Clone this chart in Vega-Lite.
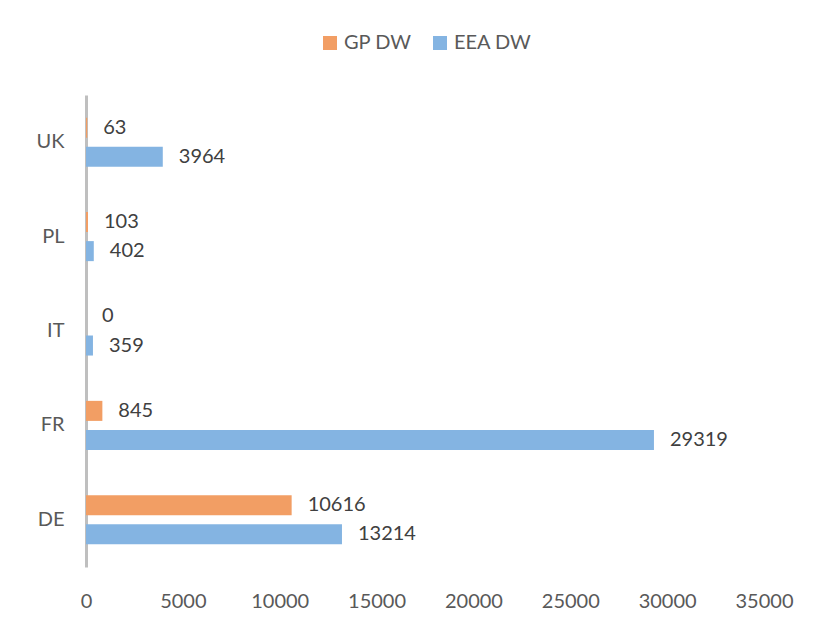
{
  "$schema": "https://vega.github.io/schema/vega-lite/v6.json",
  "autosize": "none",
  "width": 678,
  "height": 472,
  "padding": {"left": 86, "top": 95, "right": 52, "bottom": 60},
  "background": "white",
  "config": {
    "view": {"stroke": null},
    "font": "Lato",
    "axis": {"grid": false, "labelFont": "Lato", "labelColor": "#595959", "labelFontSize": 20},
    "legend": {"labelFont": "Lato", "labelColor": "#595959", "labelFontSize": 20}
  },
  "data": {
    "values": [
      {"country": "UK", "series": "GP DW", "value": 63},
      {"country": "UK", "series": "EEA DW", "value": 3964},
      {"country": "PL", "series": "GP DW", "value": 103},
      {"country": "PL", "series": "EEA DW", "value": 402},
      {"country": "IT", "series": "GP DW", "value": 0},
      {"country": "IT", "series": "EEA DW", "value": 359},
      {"country": "FR", "series": "GP DW", "value": 845},
      {"country": "FR", "series": "EEA DW", "value": 29319},
      {"country": "DE", "series": "GP DW", "value": 10616},
      {"country": "DE", "series": "EEA DW", "value": 13214}
    ]
  },
  "encoding": {
    "y": {
      "field": "country",
      "type": "nominal",
      "sort": ["UK", "PL", "IT", "FR", "DE"],
      "scale": {"paddingInner": 0.48, "paddingOuter": 0.24},
      "axis": {
        "title": null,
        "ticks": false,
        "domainColor": "#BFBFBF",
        "domainWidth": 3,
        "labelPadding": 22
      }
    },
    "yOffset": {
      "field": "series",
      "type": "nominal",
      "sort": ["GP DW", "EEA DW"],
      "scale": {"paddingInner": 0.31}
    },
    "x": {
      "field": "value",
      "type": "quantitative",
      "scale": {"domain": [0, 35000], "nice": false},
      "axis": {
        "title": null,
        "values": [0, 5000, 10000, 15000, 20000, 25000, 30000, 35000],
        "format": "d",
        "domain": false,
        "ticks": false,
        "labelFlush": false,
        "labelOverlap": false,
        "labelPadding": 24
      }
    }
  },
  "layer": [
    {
      "mark": {"type": "bar"},
      "encoding": {
        "color": {
          "field": "series",
          "type": "nominal",
          "scale": {"domain": ["GP DW", "EEA DW"], "range": ["#F29E64", "#84B4E2"]},
          "legend": {
            "title": null,
            "orient": "none",
            "legendX": 234,
            "legendY": -62,
            "direction": "horizontal",
            "symbolType": "square",
            "symbolSize": 196,
            "symbolStrokeWidth": 0,
            "columnPadding": 18,
            "labelOffset": 4
          }
        }
      }
    },
    {
      "mark": {"type": "text", "align": "left", "baseline": "middle", "dx": 16, "fontSize": 20, "color": "#404040", "font": "Lato"},
      "encoding": {
        "text": {"field": "value", "type": "quantitative", "format": "d"}
      }
    }
  ]
}
